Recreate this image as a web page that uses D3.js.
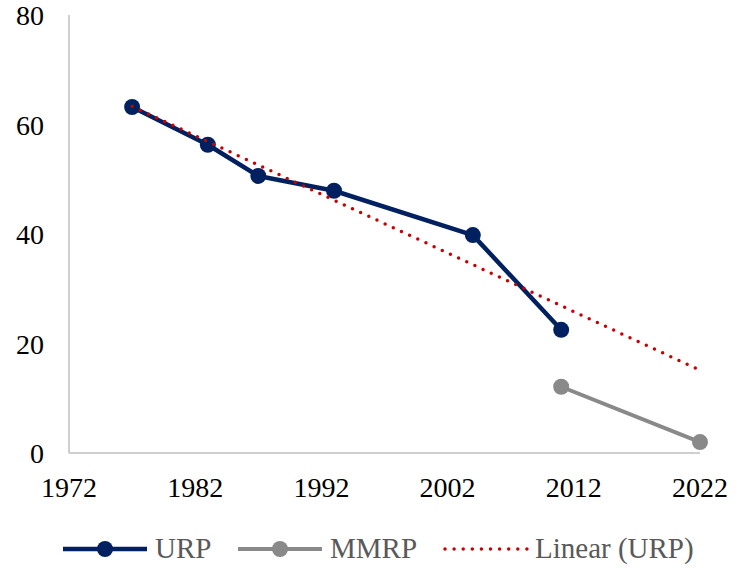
<!DOCTYPE html>
<html><head><meta charset="utf-8">
<script src="https://cdn.jsdelivr.net/npm/d3@7"></script>
<style>body{margin:0;background:#fff}svg{display:block}</style>
</head><body>
<svg id="c" width="745" height="571"></svg>
<script>
const urpYears = [1977, 1983, 1987, 1993, 2004, 2011];
const urpValues = [63.2, 56.3, 50.6, 47.9, 39.8, 22.5];
const mmrpYears = [2011, 2022];
const mmrpValues = [12.1, 2.0];
const xTicks = [1972, 1982, 1992, 2002, 2012, 2022];
const yTicks = [0, 20, 40, 60, 80];
const trendEndYear = 2022;
const legendLabels = ["URP", "MMRP", "Linear (URP)"];

const svg = d3.select("#c");
const x = d3.scaleLinear().domain([1972, 2022]).range([69, 700]);
const y = d3.scaleLinear().domain([0, 80]).range([453, 15]);
const navy = "#002060", grey = "#898989", red = "#c80000";

function txt(px, py, s, anchor, fill, fs) {
  svg.append("text").attr("x", px).attr("y", py).attr("text-anchor", anchor)
    .attr("font-family", "Liberation Serif, Times New Roman, serif")
    .attr("font-size", fs).attr("fill", fill).text(s);
}

// axes
svg.append("line").attr("x1", x(1972)).attr("x2", x(1972)).attr("y1", y(80)).attr("y2", y(0))
  .attr("stroke", "#bfbfbf").attr("stroke-width", 1.5);
svg.append("line").attr("x1", x(1972)).attr("x2", x(2022)).attr("y1", y(0)).attr("y2", y(0))
  .attr("stroke", "#bfbfbf").attr("stroke-width", 1.5);

yTicks.forEach(t => txt(44, y(t) + 10, String(t), "end", "#000", 28));
xTicks.forEach(t => txt(x(t), 497, String(t), "middle", "#000", 28));

const line = d3.line().x(d => x(d[0])).y(d => y(d[1]));
const urp = urpYears.map((yr, i) => [yr, urpValues[i]]);
const mmrp = mmrpYears.map((yr, i) => [yr, mmrpValues[i]]);

// MMRP
svg.append("path").attr("d", line(mmrp)).attr("fill", "none").attr("stroke", grey).attr("stroke-width", 4);
svg.selectAll(".mm").data(mmrp).enter().append("circle")
  .attr("cx", d => x(d[0])).attr("cy", d => y(d[1])).attr("r", 8).attr("fill", grey);

// URP
svg.append("path").attr("d", line(urp)).attr("fill", "none").attr("stroke", navy).attr("stroke-width", 4.5)
  .attr("stroke-linejoin", "round");
svg.selectAll(".ur").data(urp).enter().append("circle")
  .attr("cx", d => x(d[0])).attr("cy", d => y(d[1])).attr("r", 8).attr("fill", navy);

// linear trendline (least squares on URP)
const mx = d3.mean(urpYears), my = d3.mean(urpValues);
const slope = d3.sum(urpYears.map((yr, i) => (yr - mx) * (urpValues[i] - my))) /
              d3.sum(urpYears.map(yr => (yr - mx) ** 2));
const trend = [urpYears[0], trendEndYear].map(yr => [yr, my + slope * (yr - mx)]);
svg.append("path").attr("d", line(trend)).attr("fill", "none").attr("stroke", red)
  .attr("stroke-width", 3.5).attr("stroke-linecap", "round").attr("stroke-dasharray", "0 9");

// legend
const ly = 549;
svg.append("line").attr("x1", 63).attr("x2", 147).attr("y1", ly).attr("y2", ly).attr("stroke", navy).attr("stroke-width", 4.5);
svg.append("circle").attr("cx", 105).attr("cy", ly).attr("r", 8).attr("fill", navy);
txt(155, 558, legendLabels[0], "start", "#595959", 29);
svg.append("line").attr("x1", 238).attr("x2", 322).attr("y1", ly).attr("y2", ly).attr("stroke", grey).attr("stroke-width", 4);
svg.append("circle").attr("cx", 280).attr("cy", ly).attr("r", 8).attr("fill", grey);
txt(330, 558, legendLabels[1], "start", "#595959", 29);
svg.append("line").attr("x1", 445).attr("x2", 527).attr("y1", ly).attr("y2", ly).attr("stroke", red)
  .attr("stroke-width", 3.5).attr("stroke-linecap", "round").attr("stroke-dasharray", "0 9.1");
txt(535, 558, legendLabels[2], "start", "#595959", 29);
</script>
</body></html>
